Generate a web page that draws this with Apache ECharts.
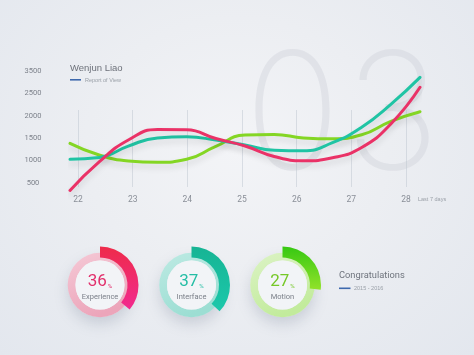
<!DOCTYPE html>
<html>
<head>
<meta charset="utf-8">
<script src="https://cdn.jsdelivr.net/npm/echarts@6/dist/echarts.min.js"></script>
<style>
html,body{margin:0;padding:0;width:474px;height:355px;overflow:hidden;}
body{background:radial-gradient(ellipse at 50% 42%, #f3f4f7 0%, #eceef2 45%, #e3e7ee 100%);}
#c{width:474px;height:355px;}
</style>
</head>
<body>
<div id="c"></div>
<script>
// ---- data ----
const dayLabels = ['22','23','24','25','26','27','28'];
const yTickLabels = ['500','1000','1500','2000','2500','3500'];
// sample positions along the curves (in day steps from the first sample)
const sampleX = [0, 0.5, 1, 1.5, 2, 2.5, 3, 3.5, 4, 4.5, 5, 5.5, 6];
const pinkValues = [333, 969, 1460, 1694, 1688, 1493, 1326, 1092, 996, 1063, 1292, 1817, 2636];
const tealValues = [1029, 1069, 1324, 1507, 1531, 1458, 1348, 1232, 1219, 1400, 1746, 2257, 2859];
const limeValues = [1386, 1125, 991, 962, 1029, 1319, 1571, 1583, 1507, 1487, 1576, 1877, 2092];
const donutValues = [36, 37, 27];
const donutNames = ['Experience', 'Interface', 'Motion'];

const chart = echarts.init(document.getElementById('c'), null, {renderer:'canvas'});
const LG = (a,b,x2,y2)=>new echarts.graphic.LinearGradient(0,0,x2||0,y2===undefined?1:y2,[{offset:0,color:a},{offset:1,color:b}]);

const donutStyles = [
  {bg:[ '#f5c9d6','#eca5ba'], fg:['#ee2b4a','#f22a8f'], num:'#e2306c', c:[100,285]},
  {bg:[ '#bdeae3','#9cded3'], fg:['#17b494','#1cc8ab'], num:'#25bea5', c:[191.5,285]},
  {bg:[ '#dcf3c5','#c2eb9c'], fg:['#36c812','#92e22a'], num:'#76c828', c:[282.5,285]}
];

const series = [];
function lineSeries(name, vals, color, z){
  return {
    name, type:'line', data: vals.map((v,i)=>[sampleX[i], v]), smooth:0.5, showSymbol:false, clip:false, z,
    xAxisIndex:0, yAxisIndex:0, silent:true,
    lineStyle:{width:3, color, shadowColor:'rgba(0,0,0,0.12)', shadowBlur:6, shadowOffsetY:4, cap:'round'}
  };
}
series.push(lineSeries('lime', limeValues, '#84d624', 3));
series.push(lineSeries('teal', tealValues, '#20c4a4', 4));
series.push(lineSeries('pink', pinkValues, '#ea3267', 5));

donutValues.forEach((v,i)=>{
  const s = donutStyles[i];
  series.push({type:'pie', silent:true, center:s.c, radius:[0,32], label:{show:false}, labelLine:{show:false},
    itemStyle:{color:'#edf0f4', shadowColor:'rgba(120,130,150,0.28)', shadowBlur:14, shadowOffsetY:7},
    data:[{value:1}], z:1});
  series.push({type:'pie', silent:true, center:s.c, radius:[24.5,32.3], label:{show:false}, labelLine:{show:false},
    itemStyle:{color:LG(s.bg[0], s.bg[1], 0.4, 1)},
    data:[{value:1}], z:2});
  series.push({type:'pie', silent:true, center:s.c, radius:[0,24.5], labelLine:{show:false},
    itemStyle:{color:'#f2f4f7'},
    label:{show:true, position:'center', padding:[6,0,0,0],
      formatter:()=> '{n|'+v+'}{p|%}\n{t|'+donutNames[i]+'}',
      rich:{
        n:{fontFamily:'Roboto', fontSize:17, color:s.num, lineHeight:18, verticalAlign:'bottom'},
        p:{fontFamily:'Roboto', fontSize:6, color:s.num, lineHeight:18, verticalAlign:'bottom', padding:[0,0,1,1]},
        t:{fontFamily:'Roboto', fontSize:7.5, color:'#7a7f88', lineHeight:14, padding:[1,0,0,0]}
      }},
    data:[{value:1}], z:3});
  series.push({type:'pie', silent:true, center:s.c, radius:[27.5,38.5], startAngle:90, clockwise:true,
    label:{show:false}, labelLine:{show:false},
    data:[{value:v, itemStyle:{color:LG(s.fg[0], s.fg[1], 0, 1)}},
          {value:100-v, itemStyle:{color:'rgba(0,0,0,0)'}}], z:4});
});

const wmFont = '200 163px Inter, "Noto Sans", sans-serif';
const wmFill = 'rgba(198,203,212,0.34)';
chart.setOption({
  animation:false,
  backgroundColor:'transparent',
  grid:[
    {left:70, right:54, top:71, bottom:149.6},
    {left:78, right:68, top:110, bottom:168}
  ],
  xAxis:[
    {gridIndex:0, type:'value', min:0, max:6, show:false},
    {gridIndex:1, type:'category', data:dayLabels, boundaryGap:false,
      axisLine:{show:false}, axisTick:{show:false},
      axisLabel:{color:'#8a8f98', fontSize:8.5, fontFamily:'Roboto', margin:8},
      splitLine:{show:true, lineStyle:{color:'rgba(185,192,204,0.45)', width:1}}}
  ],
  yAxis:[
    {gridIndex:0, type:'value', min:0, max:3000, interval:500,
      axisLine:{show:false}, axisTick:{show:false}, splitLine:{show:false},
      axisLabel:{color:'#7d828b', fontSize:7.5, fontFamily:'Roboto', align:'center', margin:37,
        formatter:(v)=> v===0 ? '' : yTickLabels[v/500-1]}},
    {gridIndex:1, type:'value', show:false}
  ],
  graphic:[
    {type:'text', x:292.5, y:38, scaleX:0.97, z:0, silent:true,
      style:{text:'0', font:wmFont, fill:wmFill, align:'center', verticalAlign:'top'}},
    {type:'text', x:392.5, y:38, scaleX:0.97, z:0, silent:true,
      style:{text:'3', font:wmFont, fill:wmFill, align:'center', verticalAlign:'top'}},
    {type:'text', left:70, top:63.5, style:{text:'Wenjun Liao', font:'9.5px "Liberation Sans", Arial, sans-serif', fill:'#6d717a'}},
    {type:'rect', left:70, top:79, shape:{width:11, height:1.6}, style:{fill:'#3e69ad'}},
    {type:'text', left:85, top:77, style:{text:'Report of View', font:'5.5px "Liberation Sans", sans-serif', fill:'#9aa0a8'}},
    {type:'text', left:418, top:196, style:{text:'Last 7 days', font:'5.5px "Liberation Sans", sans-serif', fill:'#9aa0a8'}},
    {type:'text', left:339, top:271.5, style:{text:'Congratulations', font:'9.3px Roboto, sans-serif', fill:'#6f747d'}},
    {type:'rect', left:339, top:287.5, shape:{width:11.5, height:1.6}, style:{fill:'#3e69ad'}},
    {type:'text', left:354, top:285.5, style:{text:'2015 - 2016', font:'5.5px "Liberation Sans", sans-serif', fill:'#9aa0a8'}}
  ],
  series
});
</script>
</body>
</html>
